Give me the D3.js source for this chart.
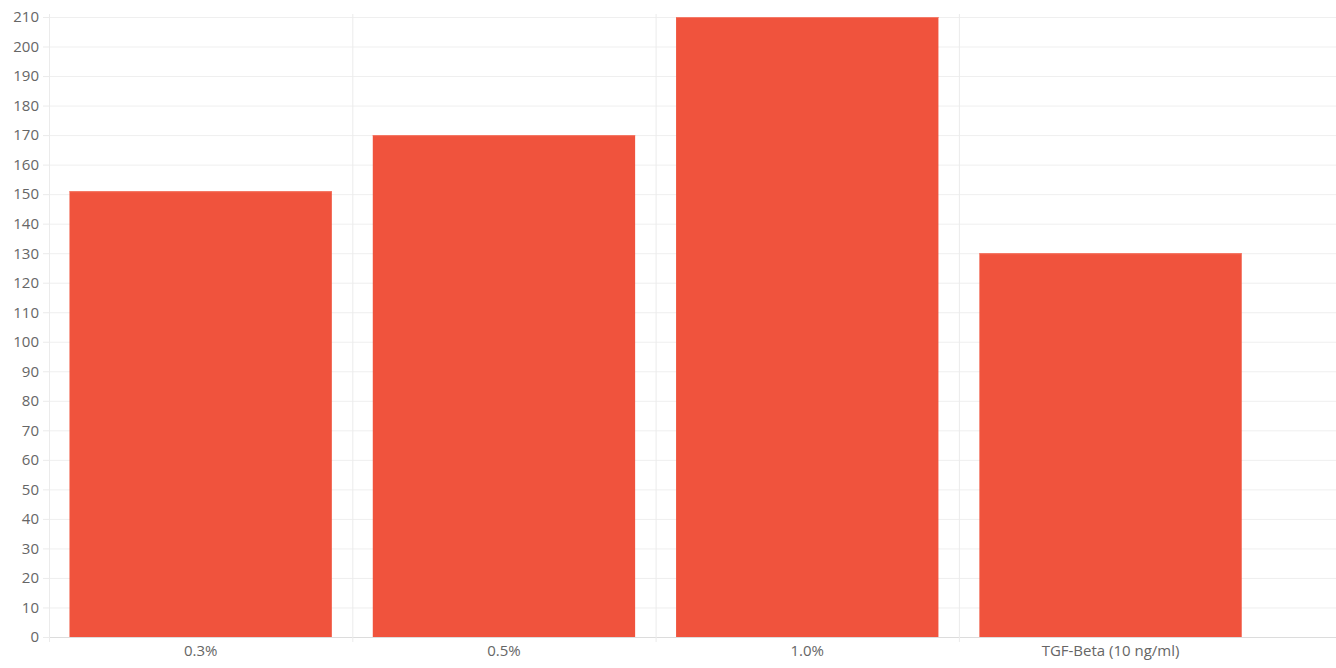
<!DOCTYPE html>
<html>
<head>
<meta charset="utf-8">
<script src="https://cdn.jsdelivr.net/npm/d3@7"></script>
<style>
  body { margin: 0; background: #fff; }
  svg { display: block; }
  .tick text { font-family: "Open Sans", Lato, sans-serif; font-size: 15px; fill: #666; }
</style>
</head>
<body>
<div id="chart"></div>
<script>
// data
const categories = ['0.3%', '0.5%', '1.0%', 'TGF-Beta (10 ng/ml)'];
const values = [151, 170, 210, 130];
const yTicks = d3.range(0, 211, 10);

const width = 1336, height = 668;
const plotLeft = 49, plotRight = 1336, plotTop = 17, plotBottom = 637;
const slotWidth = 303.3;

const svg = d3.select('#chart').append('svg')
    .attr('width', width)
    .attr('height', height);

const x = d3.scaleBand()
    .domain(categories)
    .range([plotLeft, plotLeft + slotWidth * categories.length])
    .padding(0);

const y = d3.scaleLinear()
    .domain([0, 210])
    .range([plotBottom, plotTop]);

// horizontal grid + y labels
const yAxis = svg.append('g')
    .attr('transform', `translate(${plotLeft},0)`)
    .call(d3.axisLeft(y).tickValues(yTicks).tickSize(6).tickPadding(4).tickFormat(d3.format('d')));
yAxis.selectAll('.tick line').attr('stroke', '#ebebeb');
yAxis.selectAll('.tick').append('line')
    .attr('x1', 0).attr('x2', plotRight - plotLeft)
    .attr('stroke', d => d === 0 ? '#dcdcdc' : '#efefef');
yAxis.select('.domain')
    .attr('stroke', '#e6e6e6')
    .attr('d', `M0.5,${plotTop - 3}V${plotBottom}`);

// vertical grid at slot starts
svg.append('g').selectAll('line')
    .data(categories)
    .join('line')
    .attr('x1', d => x(d) + 0.5).attr('x2', d => x(d) + 0.5)
    .attr('y1', plotTop - 3).attr('y2', plotBottom + 5)
    .attr('stroke', '#ebebeb');

// x labels
const xAxis = svg.append('g')
    .attr('transform', `translate(0,${plotBottom})`)
    .call(d3.axisBottom(x).tickSize(0).tickPadding(8));
xAxis.select('.domain').remove();

// bars
const barFrac = 0.865;
const barX = (i) => x(categories[i]) + x.bandwidth() * (1 - barFrac) / 2;
const bars = svg.append('g');
bars.selectAll('rect')
    .data(values)
    .join('rect')
    .attr('x', (d, i) => barX(i))
    .attr('width', x.bandwidth() * barFrac)
    .attr('y', d => y(d))
    .attr('height', d => y(0) - y(d))
    .attr('fill', '#f0533d');

// lighter top edge on each bar
bars.selectAll('line')
    .data(values)
    .join('line')
    .attr('x1', (d, i) => barX(i))
    .attr('x2', (d, i) => barX(i) + x.bandwidth() * barFrac)
    .attr('y1', d => y(d) + 0.5)
    .attr('y2', d => y(d) + 0.5)
    .attr('stroke', '#f47a68')
    .attr('stroke-width', 1);
</script>
</body>
</html>
